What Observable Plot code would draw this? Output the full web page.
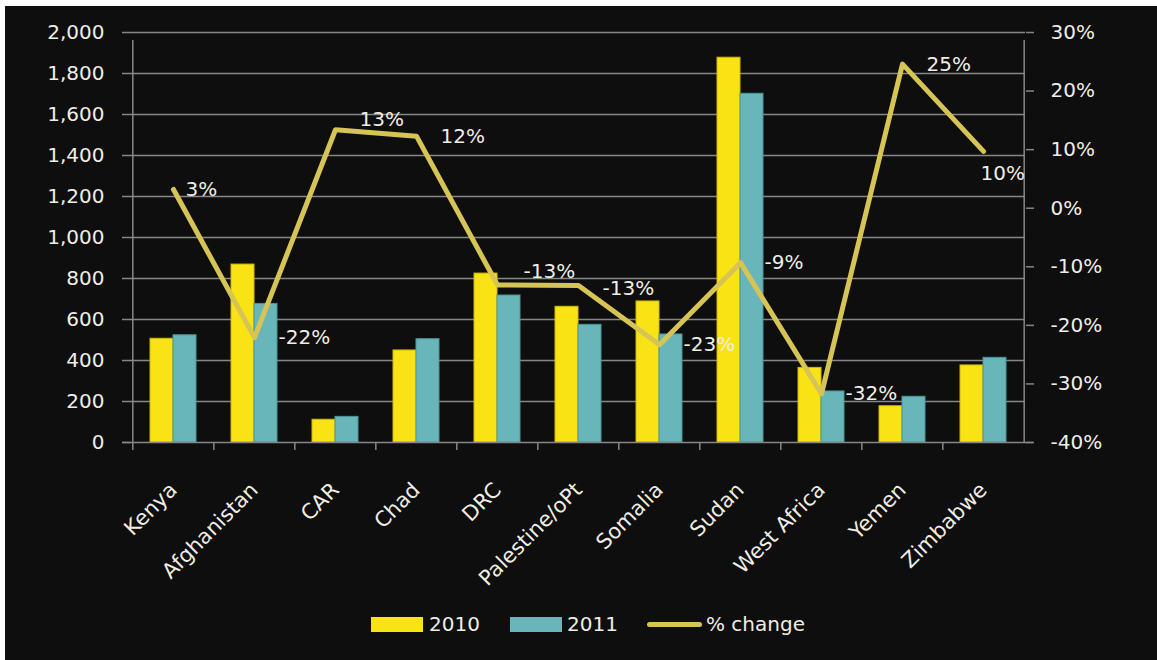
<!DOCTYPE html>
<html>
<head>
<meta charset="utf-8">
<script src="https://cdn.jsdelivr.net/npm/d3@7"></script>
<script src="https://cdn.jsdelivr.net/npm/@observablehq/plot@0.6"></script>
<style>
  html, body { margin: 0; padding: 0; background: #ffffff; width: 1157px; height: 660px; overflow: hidden; }
  #bg { position: absolute; left: 5px; top: 6px; right: 0; bottom: 0; background: #0e0e0e; }
  #chart { position: absolute; left: 0; top: 0; }
  #legend { position: absolute; left: 0; top: 610px; width: 1157px; height: 30px; font-family: "DejaVu Sans", sans-serif; font-size: 20px; color: #f0ede4; }
  .sw { position: absolute; top: 7px; height: 15px; width: 52px; }
  .lt { position: absolute; top: 1px; line-height: 26px; }
  .ln { position: absolute; top: 12px; height: 5px; width: 55px; border-radius: 3px; background: #d6c455; }
</style>
</head>
<body>
<div id="bg"></div>
<div id="chart"></div>
<div id="legend">
  <div class="sw" style="left:371px;background:#f9e314"></div><div class="lt" style="left:429px">2010</div>
  <div class="sw" style="left:510px;background:#68b6b9"></div><div class="lt" style="left:567px">2011</div>
  <div class="ln" style="left:647px"></div><div class="lt" style="left:706px">% change</div>
</div>
<script>
const categories = ["Kenya","Afghanistan","CAR","Chad","DRC","Palestine/oPt","Somalia","Sudan","West Africa","Yemen","Zimbabwe"];
const values2010 = [506, 868, 111, 449, 824, 662, 688, 1877, 364, 177, 376];
const values2011 = [523, 676, 125, 504, 717, 574, 527, 1701, 249, 223, 413];
const pctChange = [3.2, -22.1, 13.4, 12.3, -13.1, -13.2, -23.3, -9.3, -31.7, 24.6, 9.7];
const leftTicks = [0, 200, 400, 600, 800, 1000, 1200, 1400, 1600, 1800, 2000];
const pctTicks = [-40, -30, -20, -10, 0, 10, 20, 30];

const leftMax = 2000, pctMin = -40, pctMax = 30;
const toLeft = p => (p - pctMin) / (pctMax - pctMin) * leftMax;
const fromLeft = v => Math.round(v / leftMax * (pctMax - pctMin) + pctMin);

const rows = categories.map((c, i) => ({cat: c, v2010: values2010[i], v2011: values2011[i], pct: pctChange[i], pctY: toLeft(pctChange[i])}));

const W = 1157, H = 600, mL = 130, mR = 132, mT = 32, mB = 158;
const half = (W - mL - mR) / categories.length / 2;
const grid = "#878787", txt = "#f0ede4";

// label placement (layout styling, not data)
const nudge = {"Kenya": [12, 0], "CAR": [24, -10], "DRC": [26, -13], "Palestine/oPt": [24, 3], "Zimbabwe": [-3, 22]};

const labelMarks = rows.map(r => {
  const [dx, dy] = nudge[r.cat] || [24, 0];
  return Plot.text([r], {x: "cat", y: "pctY", text: d => Math.round(d.pct) + "%", dx, dy, textAnchor: "start", fill: txt, fontSize: 20});
});

const plot = Plot.plot({
  width: W, height: H,
  marginLeft: mL, marginRight: mR, marginTop: mT, marginBottom: mB,
  style: {background: "transparent", color: txt, fontFamily: "DejaVu Sans, sans-serif", fontSize: "20px"},
  x: {domain: categories, paddingInner: 0.435, paddingOuter: 0.2175},
  y: {domain: [0, leftMax]},
  marks: [
    Plot.ruleY(leftTicks.filter(t => t > 0), {stroke: grid, strokeWidth: 1.5}),
    Plot.barY(rows, {x: "cat", y: "v2010", insetRight: half * 0.565, fill: "#f9e314", stroke: "#cdb80c", strokeWidth: 1}),
    Plot.barY(rows, {x: "cat", y: "v2011", insetLeft: half * 0.565, fill: "#68b6b9", stroke: "#4d9598", strokeWidth: 1}),
    Plot.ruleX(categories, {x: d => d, y1: 0, y2: 0, insetBottom: -8, dx: -half, stroke: grid, strokeWidth: 1.5}),
    Plot.ruleX([categories[0]], {x: d => d, y1: 0, y2: leftMax, insetTop: 0, insetBottom: -8, dx: -half, stroke: grid, strokeWidth: 1.5}),
    Plot.ruleX([categories[categories.length - 1]], {x: d => d, y1: 0, y2: leftMax, insetTop: 0, insetBottom: -8, dx: half, stroke: grid, strokeWidth: 1.5}),
    Plot.ruleY([0], {insetLeft: -8, insetRight: -8, stroke: grid, strokeWidth: 1.5}),
    Plot.axisY({ticks: leftTicks, tickFormat: d3.format(","), tickSize: 8, tickPadding: 18, stroke: grid, strokeWidth: 1.5, fill: txt, fontSize: 20, label: null}),
    Plot.axisY({anchor: "right", ticks: pctTicks.map(toLeft), tickFormat: v => fromLeft(v) + "%", tickSize: 8, tickPadding: 17, stroke: grid, strokeWidth: 1.5, fill: txt, fontSize: 20, label: null}),
    Plot.axisX({tickSize: 0, tickPadding: 44, tickRotate: -45, fill: txt, fontSize: 21, label: null}),
    Plot.line(rows, {x: "cat", y: "pctY", stroke: "#d6c455", strokeWidth: 5, strokeLinecap: "round", strokeLinejoin: "round"}),
    ...labelMarks
  ]
});
document.getElementById("chart").appendChild(plot);
</script>
</body>
</html>
